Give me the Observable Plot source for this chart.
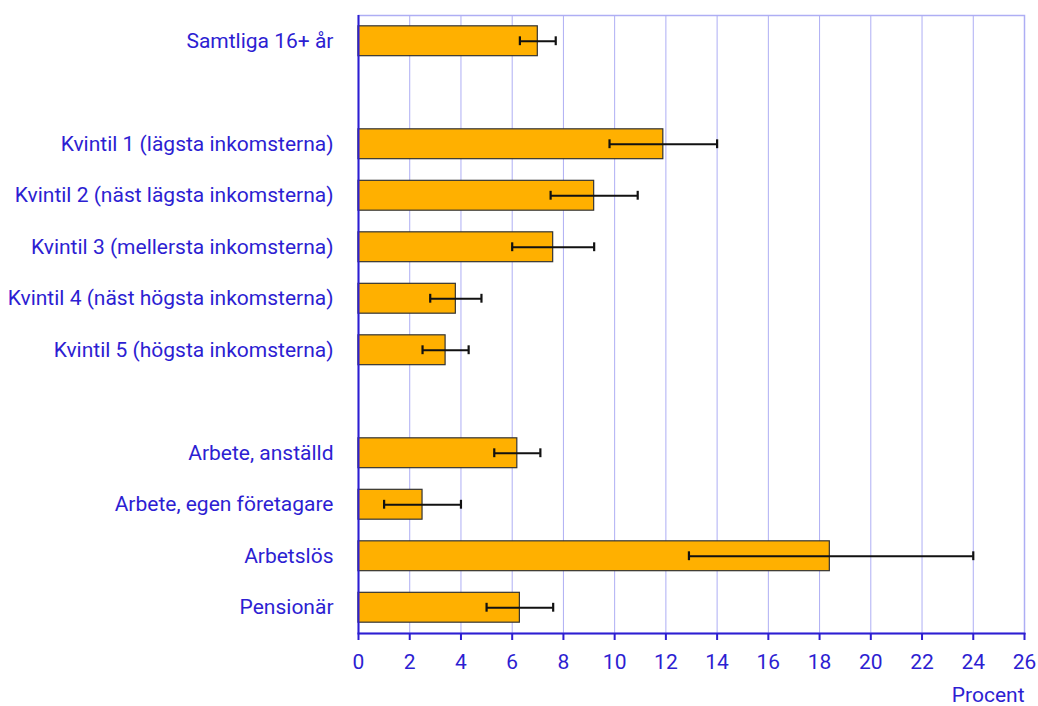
<!DOCTYPE html>
<html>
<head>
<meta charset="utf-8">
<script src="https://cdn.jsdelivr.net/npm/d3@7"></script>
<script src="https://cdn.jsdelivr.net/npm/@observablehq/plot@0.6"></script>
<style>
  body { margin: 0; background: #fff; }
  #chart svg { display: block; }
</style>
</head>
<body>
<div id="chart"></div>
<script>
// Categories in display order (gap entries are empty rows)
const categories = [
  "Samtliga 16+ år",
  "gap1",
  "Kvintil 1 (lägsta inkomsterna)",
  "Kvintil 2 (näst lägsta inkomsterna)",
  "Kvintil 3 (mellersta inkomsterna)",
  "Kvintil 4 (näst högsta inkomsterna)",
  "Kvintil 5 (högsta inkomsterna)",
  "gap2",
  "Arbete, anställd",
  "Arbete, egen företagare",
  "Arbetslös",
  "Pensionär"
];
const labels = [
  "Samtliga 16+ år",
  "Kvintil 1 (lägsta inkomsterna)",
  "Kvintil 2 (näst lägsta inkomsterna)",
  "Kvintil 3 (mellersta inkomsterna)",
  "Kvintil 4 (näst högsta inkomsterna)",
  "Kvintil 5 (högsta inkomsterna)",
  "Arbete, anställd",
  "Arbete, egen företagare",
  "Arbetslös",
  "Pensionär"
];
const values = [7.0, 11.9, 9.2, 7.6, 3.8, 3.4, 6.2, 2.5, 18.4, 6.3];
const lower  = [6.3, 9.8, 7.5, 6.0, 2.8, 2.5, 5.3, 1.0, 12.9, 5.0];
const upper  = [7.7, 14.0, 10.9, 9.2, 4.8, 4.3, 7.1, 4.0, 24.0, 7.6];
const xTicks = [0, 2, 4, 6, 8, 10, 12, 14, 16, 18, 20, 22, 24, 26];
const gridTicks = [2, 4, 6, 8, 10, 12, 14, 16, 18, 20, 22, 24];
const axisTitle = "Procent";

const data = labels.map((c, i) => ({category: c, value: values[i], lo: lower[i], hi: upper[i]}));

const blue = "#2d1ed2";
const grid = "#aeaef4";
const fontSize = 21;

const chart = Plot.plot({
  width: 1038,
  height: 706,
  marginLeft: 358,
  marginRight: 14,
  marginTop: 15,
  marginBottom: 73,
  style: {fontFamily: "Roboto", fontSize: fontSize + "px", color: blue, background: "#fff"},
  x: {domain: [0, 26]},
  y: {domain: categories, paddingInner: 0.42, paddingOuter: 0.21, round: false},
  marks: [
    Plot.frame({stroke: grid, strokeWidth: 1.5}),
    Plot.gridX(gridTicks, {stroke: grid, strokeOpacity: 1, strokeWidth: 1}),
    Plot.barX(data, {x: "value", y: "category", fill: "#ffb000", stroke: "#333", strokeWidth: 1.2}),
    Plot.ruleY(data, {y: "category", x1: "lo", x2: "hi", stroke: "#111", strokeWidth: 2}),
    Plot.tickX(data, {y: "category", x: "lo", stroke: "#111", strokeWidth: 2.2, insetTop: 10.5, insetBottom: 10.5}),
    Plot.tickX(data, {y: "category", x: "hi", stroke: "#111", strokeWidth: 2.2, insetTop: 10.5, insetBottom: 10.5}),
    Plot.frame({anchor: "bottom", stroke: blue, strokeWidth: 2}),
    Plot.ruleX([0], {stroke: blue, strokeWidth: 2}),
    Plot.axisY({ticks: labels, tickSize: 0, tickPadding: 25, fontSize: fontSize, label: null}),
    Plot.axisX({ticks: xTicks, tickSize: 7, tickPadding: 14, stroke: blue, strokeWidth: 2, fontSize: fontSize, label: null}),
    Plot.text([axisTitle], {text: d => d, frameAnchor: "bottom-right", textAnchor: "end", dy: 68, fill: blue, fontSize: fontSize})
  ]
});
document.getElementById("chart").appendChild(chart);
</script>
</body>
</html>
